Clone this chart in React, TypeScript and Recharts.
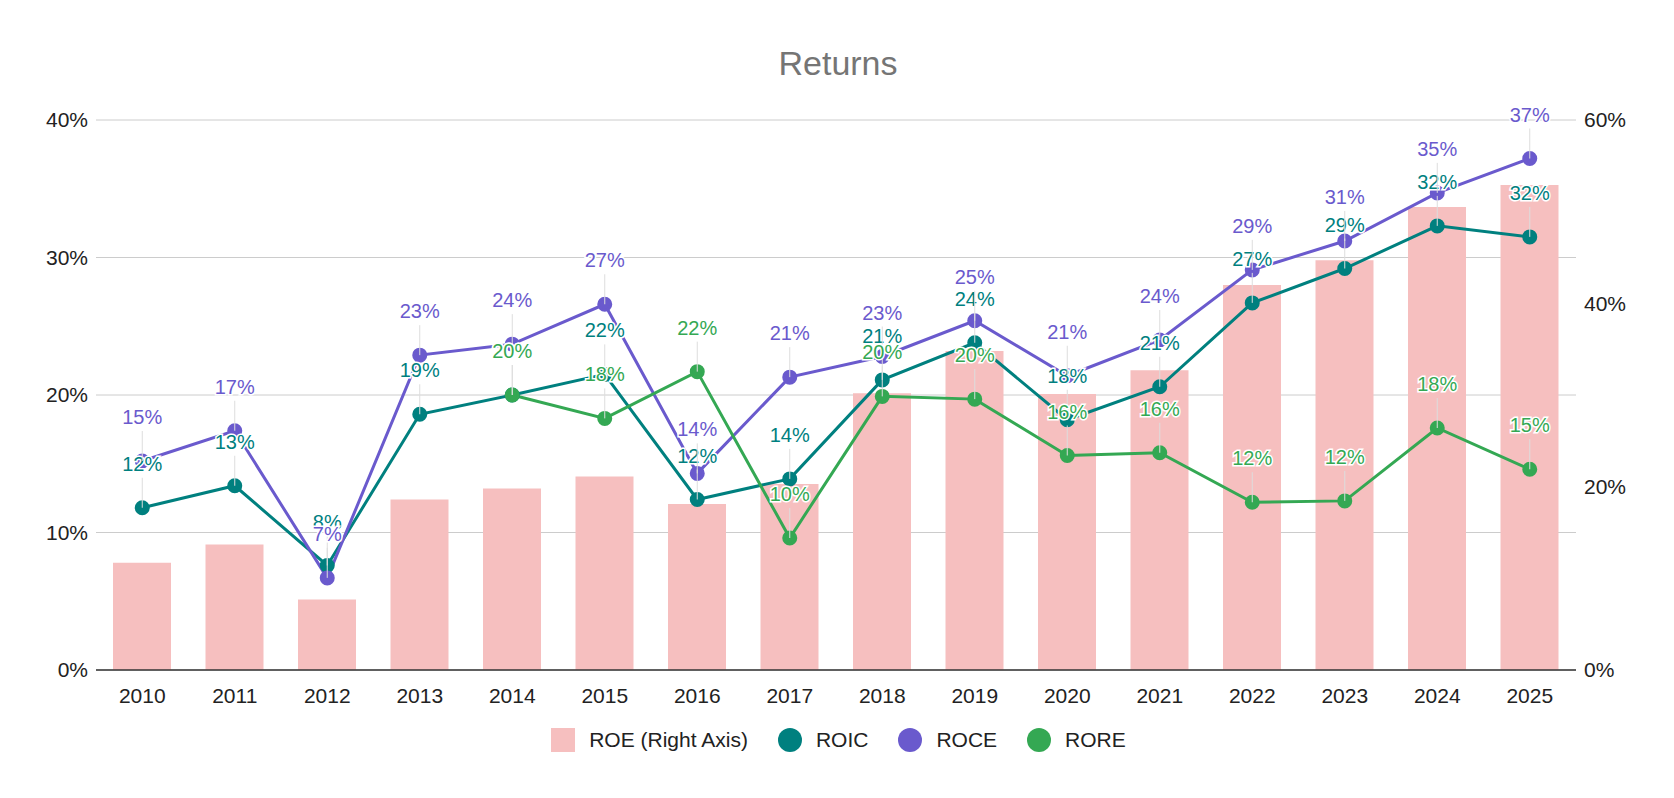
import { Bar, CartesianGrid, ComposedChart, Legend, Line, XAxis, YAxis } from "recharts";

const years = ["2010","2011","2012","2013","2014","2015","2016","2017","2018","2019","2020","2021","2022","2023","2024","2025"];
const roe = [11.7,13.7,7.7,18.6,19.8,21.1,18.1,20.3,30.2,34.8,30.1,32.7,42.0,44.7,50.5,52.9];
const roic = [11.8,13.4,7.6,18.6,20.0,21.5,12.4,13.9,21.1,23.8,18.2,20.6,26.7,29.2,32.3,31.5];
const roce = [15.2,17.4,6.7,22.9,23.7,26.6,14.3,21.3,22.8,25.4,21.4,24.0,29.1,31.2,34.7,37.2];
const rore = [null,null,null,null,20.0,18.3,21.7,9.6,19.9,19.7,15.6,15.8,12.2,12.3,17.6,14.6];

const data = years.map((y, i) => ({
  year: y,
  roe: roe[i] / 100,
  roic: roic[i] / 100,
  roce: roce[i] / 100,
  rore: rore[i] == null ? null : (rore[i] as number) / 100,
}));

const FONT = "'Liberation Sans', Arial, sans-serif";
const C_ROE = "#f6bfbf";
const C_ROIC = "#00807f";
const C_ROCE = "#6a5acd";
const C_RORE = "#34a853";

const pct = (v: number) => `${Math.round(v * 100)}%`;

function makeLabel(color: string) {
  return (props: any) => {
    const { x, y, value } = props;
    if (value == null) return null;
    return (
      <g>
        <line x1={x} x2={x} y1={y - 30} y2={y} stroke="#dddddd" strokeWidth={1} />
        <text x={x} y={y - 37} textAnchor="middle" fontFamily={FONT} fontSize={20}
          fill={color} stroke="#fff" strokeWidth={3} paintOrder="stroke">{pct(value)}</text>
      </g>
    );
  };
}

function LegendContent() {
  const items = [
    { n: "ROE (Right Axis)", c: C_ROE, sq: true },
    { n: "ROIC", c: C_ROIC },
    { n: "ROCE", c: C_ROCE },
    { n: "RORE", c: C_RORE },
  ];
  return (
    <div style={{ display: "flex", justifyContent: "center", gap: 30, fontFamily: FONT, fontSize: 21, color: "#222", paddingLeft: 10 }}>
      {items.map((it) => (
        <div key={it.n} style={{ display: "flex", alignItems: "center", gap: 14 }}>
          <span style={{ width: 24, height: 24, background: it.c, borderRadius: it.sq ? 0 : 12, display: "inline-block" }} />
          {it.n}
        </div>
      ))}
    </div>
  );
}

export default function App() {
  return (
    <div style={{ width: 1658, height: 782, position: "relative", background: "#fff" }}>
      <div style={{ position: "absolute", top: 36, width: 1660, textAlign: "center", fontFamily: FONT, fontSize: 34, color: "#757575" }}>Returns</div>
      <ComposedChart width={1658} height={782} data={data}
        margin={{ top: 112, right: 10, bottom: 56, left: 3 }}>
        <CartesianGrid vertical={false} stroke="#cccccc" yAxisId="l" />
        <XAxis dataKey="year" tick={{ fill: "#222", fontSize: 21, fontFamily: FONT }} tickLine={false}
          axisLine={{ stroke: "#333", strokeWidth: 1.5 }} tickMargin={12} height={40} />
        <YAxis yAxisId="l" domain={[0, 0.4]} ticks={[0, 0.1, 0.2, 0.3, 0.4]} tickFormatter={pct} width={85}
          tick={{ fill: "#222", fontSize: 21, fontFamily: FONT }} tickLine={false} axisLine={false} />
        <YAxis yAxisId="r" orientation="right" domain={[0, 0.6]} ticks={[0, 0.2, 0.4, 0.6]} tickFormatter={pct} width={80}
          tick={{ fill: "#222", fontSize: 21, fontFamily: FONT }} tickLine={false} axisLine={false} />
        <Legend verticalAlign="bottom" content={<LegendContent />} wrapperStyle={{ bottom: 38 }} />
        <Bar yAxisId="r" dataKey="roe" fill={C_ROE} barSize={58} isAnimationActive={false} />
        <Line yAxisId="l" dataKey="roic" stroke={C_ROIC} strokeWidth={3} dot={{ r: 6, fill: C_ROIC, stroke: C_ROIC }}
          label={makeLabel(C_ROIC)} isAnimationActive={false} />
        <Line yAxisId="l" dataKey="roce" stroke={C_ROCE} strokeWidth={3} dot={{ r: 6, fill: C_ROCE, stroke: C_ROCE }}
          label={makeLabel(C_ROCE)} isAnimationActive={false} />
        <Line yAxisId="l" dataKey="rore" stroke={C_RORE} strokeWidth={3} dot={{ r: 6, fill: C_RORE, stroke: C_RORE }}
          label={makeLabel(C_RORE)} isAnimationActive={false} />
      </ComposedChart>
    </div>
  );
}
